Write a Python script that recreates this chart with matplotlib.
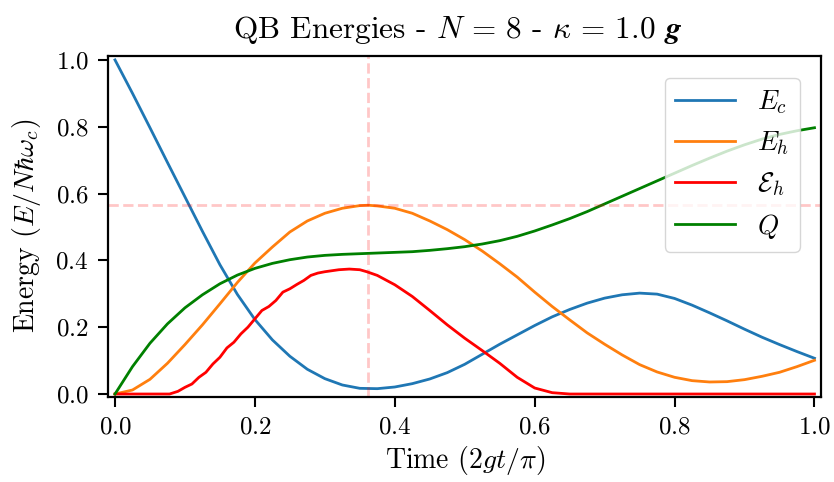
import matplotlib
matplotlib.use("Agg")
import matplotlib.pyplot as plt

plt.rcParams['font.family'] = 'serif'
plt.rcParams['font.serif'] = ['cmr10', 'DejaVu Serif']
plt.rcParams['mathtext.fontset'] = 'cm'
plt.rcParams['axes.formatter.use_mathtext'] = True
plt.rcParams['axes.unicode_minus'] = False

# ---- data ----
t_ec = [0.0, 0.025, 0.05, 0.075, 0.1, 0.125, 0.15, 0.175, 0.2, 0.225, 0.25, 0.275,
        0.3, 0.325, 0.35, 0.375, 0.4, 0.425, 0.45, 0.475, 0.5, 0.525, 0.55, 0.575,
        0.6, 0.625, 0.65, 0.675, 0.7, 0.725, 0.75, 0.775, 0.8, 0.825, 0.85, 0.875,
        0.9, 0.925, 0.95, 0.975, 1.0]
E_c = [1.0, 0.90, 0.797, 0.693, 0.59, 0.487, 0.387, 0.298, 0.223, 0.162, 0.113, 0.074,
       0.046, 0.027, 0.017, 0.016, 0.021, 0.031, 0.045, 0.064, 0.089, 0.119, 0.149, 0.177,
       0.205, 0.231, 0.253, 0.272, 0.287, 0.297, 0.302, 0.299, 0.286, 0.266, 0.243, 0.219,
       0.194, 0.17, 0.148, 0.127, 0.107]

t_eh = [0.0, 0.025, 0.05, 0.075, 0.1, 0.125, 0.15, 0.175, 0.2, 0.225, 0.25, 0.275,
        0.3, 0.325, 0.35, 0.362, 0.375, 0.4, 0.425, 0.45, 0.475, 0.5, 0.525, 0.55, 0.575,
        0.6, 0.625, 0.65, 0.675, 0.7, 0.725, 0.75, 0.775, 0.8, 0.825, 0.85, 0.875,
        0.9, 0.925, 0.95, 0.975, 1.0]
E_h = [0.0, 0.012, 0.044, 0.092, 0.148, 0.207, 0.27, 0.334, 0.392, 0.44, 0.485, 0.518,
       0.541, 0.556, 0.564, 0.565, 0.563, 0.556, 0.541, 0.518, 0.492, 0.462, 0.428, 0.39, 0.35,
       0.305, 0.262, 0.222, 0.183, 0.149, 0.117, 0.088, 0.066, 0.05, 0.04, 0.036, 0.037,
       0.043, 0.053, 0.065, 0.082, 0.101]

t_erg = [0.0, 0.078, 0.09, 0.1, 0.11, 0.12, 0.13, 0.14, 0.15, 0.16, 0.17, 0.18, 0.19,
         0.2, 0.21, 0.22, 0.23, 0.24, 0.25, 0.26, 0.27, 0.28, 0.29, 0.3, 0.31, 0.32,
         0.335, 0.35, 0.36, 0.375, 0.4, 0.425, 0.45, 0.475, 0.5, 0.525, 0.55, 0.575,
         0.6, 0.625, 0.65, 1.0]
Erg_h = [0.0, 0.0, 0.008, 0.02, 0.03, 0.05, 0.065, 0.09, 0.11, 0.138, 0.155, 0.18, 0.2,
         0.225, 0.25, 0.262, 0.28, 0.305, 0.315, 0.328, 0.34, 0.355, 0.362, 0.366, 0.369, 0.372,
         0.374, 0.372, 0.366, 0.355, 0.327, 0.292, 0.25, 0.207, 0.167, 0.13, 0.092, 0.05,
         0.018, 0.004, 0.0, 0.0]

t_q = [0.0, 0.025, 0.05, 0.075, 0.1, 0.125, 0.15, 0.175, 0.2, 0.225, 0.25, 0.275,
       0.3, 0.325, 0.35, 0.375, 0.4, 0.425, 0.45, 0.475, 0.5, 0.525, 0.55, 0.575,
       0.6, 0.625, 0.65, 0.675, 0.7, 0.725, 0.75, 0.775, 0.8, 0.825, 0.85, 0.875,
       0.9, 0.925, 0.95, 0.975, 1.0]
Q = [0.0, 0.082, 0.152, 0.21, 0.258, 0.297, 0.33, 0.356, 0.376, 0.391, 0.402, 0.41,
     0.415, 0.418, 0.42, 0.422, 0.424, 0.426, 0.43, 0.435, 0.441, 0.449, 0.459, 0.472,
     0.488, 0.506, 0.525, 0.546, 0.569, 0.592, 0.615, 0.638, 0.661, 0.684, 0.706, 0.727,
     0.746, 0.763, 0.777, 0.788, 0.797]

t_max = 0.362
E_h_max = 0.565

title = r"QB Energies - $N\,=\,8$ - $\kappa\,=\,1.0$ $\mathbfit{g}$"
xlabel = r"Time ($2gt/\pi$)"
ylabel = r"Energy ($E/N\hbar\omega_c$)"
labels = [r"$E_c$", r"$E_h$", r"$\mathcal{E}_h$", r"$Q$"]
ticks = [0.0, 0.2, 0.4, 0.6, 0.8, 1.0]

fig = plt.figure(figsize=(8.34, 4.82), dpi=100)
ax = fig.add_axes([0.1295, 0.177, 0.8555, 0.707])

ax.plot(t_ec, E_c, color='tab:blue', lw=2, label=labels[0])
ax.plot(t_eh, E_h, color='tab:orange', lw=2, label=labels[1])
ax.plot(t_erg, Erg_h, color='red', lw=2, label=labels[2])
ax.plot(t_q, Q, color='green', lw=2, label=labels[3])
ax.axvline(t_max, color='red', alpha=0.22, ls='--', lw=2)
ax.axhline(E_h_max, color='red', alpha=0.22, ls='--', lw=2)

ax.set_xlim(-0.01, 1.01)
ax.set_ylim(-0.008, 1.012)
ax.set_xticks(ticks)
ax.set_yticks(ticks)
ax.tick_params(labelsize=18, length=7, width=1.5, pad=7)
for s in ax.spines.values():
    s.set_linewidth(1.6)

ax.set_title(title, fontsize=22.5, pad=13, x=0.49)
ax.set_xlabel(xlabel, fontsize=20, labelpad=4)
ax.set_ylabel(ylabel, fontsize=20, labelpad=9)
ax.legend(loc='upper right', fontsize=19.5, handlelength=2.2, borderaxespad=0.8)

fig.savefig("out.png", dpi=100)
